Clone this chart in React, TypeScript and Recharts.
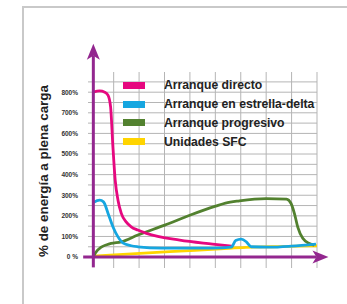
import { LineChart, Line, XAxis, YAxis, CartesianGrid, ReferenceLine } from 'recharts';

// time in grid units (first grid line at 0.8), value in % of full-load
const directoT = [0, 0.25, 0.45, 0.58, 0.68, 0.77, 0.86, 0.97, 1.1, 1.29, 1.49, 1.75, 2.09, 3.4, 4.69, 5.5];
const directoV = [800, 806, 800, 785, 728, 535, 373, 276, 212, 171, 147, 131, 115, 82, 63, 52];

const estrellaT = [0, 0.25, 0.4, 0.58, 0.77, 0.97, 1.16, 1.49, 1.75, 2.7, 4.7, 5.43, 5.6, 5.82, 6.02, 6.21, 6.93, 7.8, 8.76];
const estrellaV = [265, 276, 268, 212, 147, 98, 69, 55, 50, 43, 43, 48, 80, 87, 74, 50, 48, 53, 63];

const progresivoT = [0, 0.08, 0.31, 0.53, 0.7, 1.1, 1.75, 2.81, 3.82, 4.81, 5.2, 5.75, 6.8, 7.6, 7.78, 7.91, 8.04, 8.24, 8.5, 8.69];
const progresivoV = [2, 20, 48, 60, 66, 74, 107, 155, 204, 247, 262, 273, 284, 281, 260, 212, 147, 91, 66, 58];

const sfcT = [0, 1, 2, 3, 4, 5, 6, 7, 8, 8.8];
const sfcV = [5, 12, 19, 26, 33, 40, 47, 50, 53, 55];

const yTicks = [0, 50, 100, 150, 200, 250, 300, 350, 400, 450, 500, 550, 600, 650, 700, 750, 800, 850];
const xGrid = [0.8, 1.8, 2.8, 3.8, 4.8, 5.8, 6.8, 7.8, 8.8];

const seriesNames = ['Arranque directo', 'Arranque en estrella-delta', 'Arranque progresivo', 'Unidades SFC'];
const seriesColors = ['#e6087f', '#16a6e0', '#52812f', '#ffd400'];

const toData = (ts: number[], vs: number[]) => ts.map((t, i) => ({ t, v: vs[i] }));

const PURPLE = '#93278f';

const AxisArrow = (props: any) => {
  const { x1, y1, x2, y2 } = props;
  const dx = x2 - x1;
  const dy = y2 - y1;
  const len = Math.sqrt(dx * dx + dy * dy) || 1;
  const ux = dx / len;
  const uy = dy / len;
  const px = -uy;
  const py = ux;
  const head = 16;
  const half = 6.5;
  const bx = x2 - ux * head;
  const by = y2 - uy * head;
  const nx = x2 - ux * (head - 4);
  const ny = y2 - uy * (head - 4);
  return (
    <g>
      <line x1={x1} y1={y1} x2={nx} y2={ny} stroke={PURPLE} strokeWidth={3} />
      <path
        d={`M${x2},${y2} L${bx + px * half},${by + py * half} L${nx},${ny} L${bx - px * half},${by - py * half} Z`}
        fill={PURPLE}
      />
    </g>
  );
};

const tickFmt = (v: number) => {
  if (v === 0) return '0 %';
  if (v % 100 === 0 && v <= 800) return `${v}%`;
  return '';
};

export default function App() {
  const sets = [
    toData(directoT, directoV),
    toData(estrellaT, estrellaV),
    toData(progresivoT, progresivoV),
    toData(sfcT, sfcV),
  ];
  const drawOrder = [3, 2, 0, 1];

  return (
    <div style={{ position: 'absolute', left: 0, top: 0, width: 347, height: 304, background: '#fff', overflow: 'hidden' }}>
      <div
        style={{
          position: 'absolute',
          left: 22,
          top: 6,
          width: 340,
          height: 320,
          borderLeft: '2px solid #c9c9c9',
          borderTop: '2px solid #c9c9c9',
        }}
      />
      <div style={{ position: 'absolute', left: 0, top: 0 }}>
        <LineChart width={347} height={304} margin={{ top: 72, right: 30, bottom: 36, left: 28 }}>
          <CartesianGrid
            stroke="#b5b5b5"
            strokeWidth={1}
            horizontalValues={yTicks}
            verticalValues={xGrid}
          />
          <XAxis type="number" dataKey="t" domain={[-0.21, 8.8]} ticks={xGrid} allowDataOverflow hide />
          <YAxis
            type="number"
            dataKey="v"
            domain={[-53, 898]}
            ticks={yTicks}
            interval={0}
            allowDataOverflow
            width={60}
            axisLine={false}
            tickLine={false}
            tickSize={0}
            tickMargin={10}
            tickFormatter={tickFmt}
            tick={{ fontSize: 6.5, fontWeight: 700, fill: '#333', fontFamily: 'Liberation Sans, Arial, sans-serif' }}
          />
          {drawOrder.map((i) => (
            <Line
              key={seriesNames[i]}
              data={sets[i]}
              dataKey="v"
              type="monotone"
              stroke={seriesColors[i]}
              strokeWidth={2.8}
              dot={false}
              activeDot={false}
              isAnimationActive={false}
            />
          ))}
          <ReferenceLine
            segment={[{ x: -0.4, y: 0 }, { x: 9.25, y: 0 }]}
            ifOverflow="visible"
            shape={AxisArrow}
          />
          <ReferenceLine
            segment={[{ x: 0, y: -50 }, { x: 0, y: 1035 }]}
            ifOverflow="visible"
            shape={AxisArrow}
          />
        </LineChart>
      </div>
      <div
        style={{
          position: 'absolute',
          left: 43,
          top: 171,
          transform: 'translate(-50%, -50%) rotate(-90deg)',
          whiteSpace: 'nowrap',
          fontFamily: 'Liberation Sans, Arial, sans-serif',
          fontWeight: 700,
          fontSize: 13.4,
          color: '#222',
        }}
      >
        % de energía a plena carga
      </div>
      <div style={{ position: 'absolute', left: 123, top: 76 }}>
        {seriesNames.map((name, i) => (
          <div key={name} style={{ display: 'flex', alignItems: 'center', height: 18.8 }}>
            <div style={{ width: 22, height: 7, background: seriesColors[i] }} />
            <span
              style={{
                marginLeft: 19,
                fontFamily: 'Liberation Sans, Arial, sans-serif',
                fontWeight: 700,
                fontSize: 12.2,
                color: '#222',
                whiteSpace: 'nowrap',
              }}
            >
              {name}
            </span>
          </div>
        ))}
      </div>
    </div>
  );
}
